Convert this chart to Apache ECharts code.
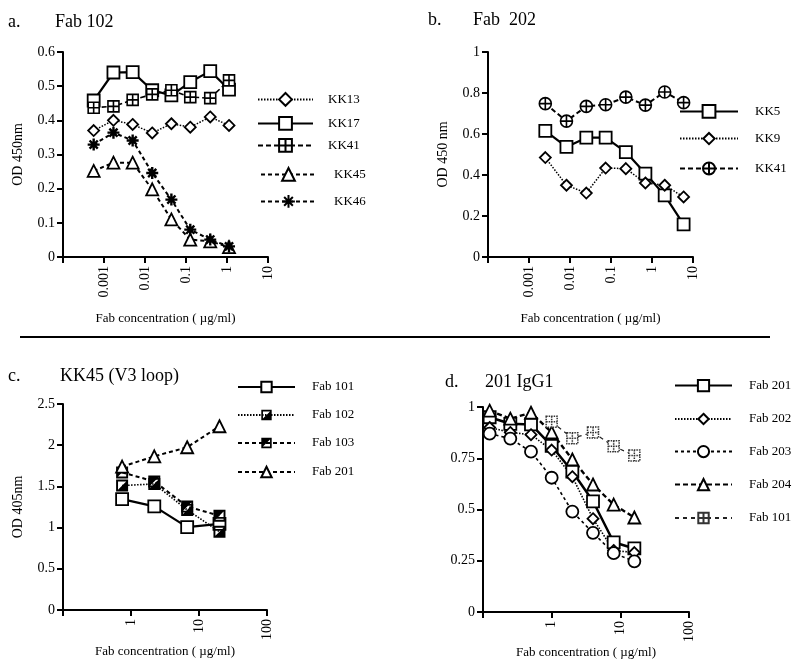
<!DOCTYPE html>
<html><head><meta charset="utf-8">
<script src="https://cdn.jsdelivr.net/npm/echarts@6/dist/echarts.min.js"></script>
<style>html,body{margin:0;padding:0;background:#fff}#c{width:800px;height:670px}</style>
</head><body><div id="c"></div>
<script>
// ---------- DATA ----------
// Panel a: Fab 102 (OD 450nm vs Fab concentration, µg/ml)
const concA = [0.00056, 0.0017, 0.005, 0.015, 0.044, 0.127, 0.39, 1.12];
const kk13A = [0.370, 0.400, 0.388, 0.363, 0.390, 0.380, 0.410, 0.385];
const kk17A = [0.458, 0.540, 0.541, 0.488, 0.473, 0.512, 0.544, 0.490];
const kk41A = [0.437, 0.441, 0.460, 0.476, 0.488, 0.468, 0.465, 0.517];
const kk45A = [0.252, 0.276, 0.276, 0.198, 0.110, 0.051, 0.046, 0.029];
const kk46A = [0.329, 0.364, 0.341, 0.246, 0.168, 0.080, 0.051, 0.031];
// Panel b: Fab 202
const concB = [0.0025, 0.0082, 0.025, 0.074, 0.23, 0.69, 2.04, 5.9];
const kk5B  = [0.615, 0.537, 0.582, 0.582, 0.512, 0.407, 0.301, 0.159];
const kk9B  = [0.485, 0.350, 0.312, 0.434, 0.431, 0.361, 0.350, 0.293];
const kk41B = [0.748, 0.663, 0.735, 0.743, 0.780, 0.741, 0.805, 0.753];
// Panel c: KK45 (V3 loop), OD 405nm
const concC = [0.74, 2.2, 6.7, 20];
const fab101C = [1.345, 1.258, 1.005, 1.045];
const fab102C = [1.510, 1.530, 1.215, 0.950];
const fab103C = [1.670, 1.560, 1.255, 1.145];
const fab201C = [1.740, 1.865, 1.975, 2.230];
// Panel d: 201 IgG1
const concD = [0.125, 0.25, 0.5, 1, 2, 4, 8, 16];
const fab201D = [0.950, 0.918, 0.915, 0.810, 0.685, 0.540, 0.340, 0.310];
const fab202D = [0.900, 0.876, 0.865, 0.790, 0.660, 0.455, 0.300, 0.290];
const fab203D = [0.870, 0.846, 0.782, 0.655, 0.490, 0.386, 0.287, 0.247];
const fab204D = [0.982, 0.943, 0.972, 0.876, 0.744, 0.622, 0.524, 0.461];
const fab101D = [null, null, null, 0.928, 0.848, 0.876, 0.808, 0.764];
// Tick labels
const xTicksAB = ['0.001', '0.01', '0.1', '1', '10'];
const xTicksCD = ['1', '10', '100'];
const yTicksA = [0, 0.1, 0.2, 0.3, 0.4, 0.5, 0.6];
const yTicksB = [0, 0.2, 0.4, 0.6, 0.8, 1];
const yTicksC = [0, 0.5, 1, 1.5, 2, 2.5];
const yTicksD = [0, 0.25, 0.5, 0.75, 1];

// ---------- STYLE ----------
const FF = '"Liberation Serif", "Times New Roman", serif';
const BOXPLUS = 'path://M0,0H10V10H0Z M5,0V10 M0,5H10';
const CIRPLUS = 'path://M0,5A5,5,0,1,1,10,5A5,5,0,1,1,0,5Z M5,0V10 M0,5H10';
const STAR = 'path://M5,0V10 M0,5H10 M1.6,1.6L8.4,8.4 M8.4,1.6L1.6,8.4';
const HALF_UL = 'path://M0,0H10V10H0Z M1.6,1.6V8.4H8.4V1.6Z M1.6,1.6H8.4L1.6,8.4Z';
const HALF_LR = 'path://M0,0H10V10H0Z M1.6,1.6V8.4H8.4V1.6Z M8.4,1.6V8.4H1.6Z';
const DOT = [1.5, 1.5], DASH = [5, 3], DASH2 = [4, 3];

function pairs(xs, ys) {
  return xs.map((x, i) => ys[i] == null ? null : [x, ys[i]]).filter(p => p);
}
function ser(name, g, xs, ys, sym, size, lt, lw, extra) {
  const s = {
    type: 'line', name: name, xAxisIndex: g, yAxisIndex: g,
    data: pairs(xs, ys), symbol: sym, symbolSize: size, showSymbol: true,
    symbolKeepAspect: true,
    lineStyle: { color: '#000', width: lw, type: lt },
    itemStyle: { color: '#fff', borderColor: '#000', borderWidth: 1.8 },
    emphasis: { disabled: true }, z: 3
  };
  return Object.assign(s, extra || {});
}
const solidItem = { itemStyle: { color: '#000', borderWidth: 0 } };

const series = [
  ser('a-KK13', 0, concA, kk13A, 'diamond', 11, DOT, 1.5),
  ser('a-KK17', 0, concA, kk17A, 'rect', 12, 'solid', 2.2),
  ser('a-KK41', 0, concA, kk41A, BOXPLUS, 11, DASH, 1.6, { itemStyle: { color: '#fff', borderColor: '#000', borderWidth: 1.6 } }),
  ser('a-KK45', 0, concA, kk45A, 'triangle', 12, DASH2, 2),
  ser('a-KK46', 0, concA, kk46A, STAR, 12, DASH2, 2, { itemStyle: { color: '#fff', borderColor: '#000', borderWidth: 2.4 } }),
  ser('b-KK5', 1, concB, kk5B, 'rect', 12, 'solid', 2.2),
  ser('b-KK9', 1, concB, kk9B, 'diamond', 11, DOT, 1.5),
  ser('b-KK41', 1, concB, kk41B, CIRPLUS, 12, DASH, 2, { itemStyle: { color: '#fff', borderColor: '#000', borderWidth: 1.6 } }),
  ser('c-Fab 101', 2, concC, fab101C, 'rect', 12, 'solid', 2.2),
  ser('c-Fab 102', 2, concC, fab102C, HALF_LR, 12, DOT, 1.6, solidItem),
  ser('c-Fab 103', 2, concC, fab103C, HALF_UL, 12, DASH2, 2, solidItem),
  ser('c-Fab 201', 2, concC, fab201C, 'triangle', 12, DASH2, 2),
  ser('d-Fab 201', 3, concD, fab201D, 'rect', 12, 'solid', 2.5),
  ser('d-Fab 202', 3, concD, fab202D, 'diamond', 11, DOT, 1.6),
  ser('d-Fab 203', 3, concD, fab203D, 'circle', 12, [3, 3], 1.6),
  ser('d-Fab 204', 3, concD, fab204D, 'triangle', 12, [5, 3], 2.4),
  ser('d-Fab 101', 3, concD, fab101D, BOXPLUS, 11, [4, 4], 1.2,
      { lineStyle: { color: '#222', width: 1.2, type: [4, 4] },
        itemStyle: { color: '#fff', borderColor: '#333', borderWidth: 1.5, borderType: [1.5, 1] } })
];

// ---------- LAYOUT ----------
const grids = [
  { left: 63, top: 52, width: 205, height: 205 },
  { left: 488, top: 52, width: 205, height: 205 },
  { left: 63, top: 404, width: 204, height: 206 },
  { left: 483, top: 407, width: 206, height: 205 }
];
const xRanges = [[1e-4, 10], [1e-4, 10], [0.1, 100], [0.1, 100]];
const xLabs = [xTicksAB, xTicksAB, xTicksCD, xTicksCD];
const xGaps = [55, 55, 35, 33];
const yTicks = [yTicksA, yTicksB, yTicksC, yTicksD];
const yNames = ['OD 450nm', 'OD 450 nm', 'OD 405nm', ''];

const xAxis = grids.map((g, i) => ({
  type: 'log', logBase: 10, gridIndex: i, min: xRanges[i][0], max: xRanges[i][1],
  axisLine: { lineStyle: { color: '#000', width: 2 } },
  axisTick: { show: true, length: 6, lineStyle: { color: '#000', width: 2 } },
  splitLine: { show: false },
  axisLabel: {
    rotate: 90, margin: 9, fontSize: 14, fontFamily: FF, color: '#000',
    formatter: v => {
      const s = xLabs[i].find(l => Math.abs(Math.log10(+l) - Math.log10(v)) < 1e-6);
      return s || '';
    }
  },
  name: 'Fab concentration ( µg/ml)', nameLocation: 'middle', nameGap: xGaps[i],
  nameTextStyle: { fontFamily: FF, fontSize: 13, color: '#000' }
}));
const yAxis = grids.map((g, i) => {
  const t = yTicks[i];
  return {
    type: 'value', gridIndex: i, min: t[0], max: t[t.length - 1], interval: t[1] - t[0],
    axisLine: { show: true, lineStyle: { color: '#000', width: 2 } },
    axisTick: { show: true, length: 6, lineStyle: { color: '#000', width: 2 } },
    splitLine: { show: false },
    axisLabel: { margin: 8, fontSize: 14, fontFamily: FF, color: '#000',
      formatter: v => { const m = t.find(x => Math.abs(x - v) < 1e-9); return m == null ? '' : String(m); } },
    name: yNames[i], nameLocation: 'middle', nameGap: 38,
    nameTextStyle: { fontFamily: FF, fontSize: 14, color: '#000' }
  };
});

// legend entries: [series name, line left x, center y, line width, item height, text x]
const legendSpec = [
  ['a-KK13', 257, 100, 55, 16, 327], ['a-KK17', 257, 124, 55, 16, 327], ['a-KK41', 257, 146, 55, 16, 327],
  ['a-KK45', 260, 175, 55, 16, 333], ['a-KK46', 260, 202, 55, 16, 333],
  ['b-KK5', 679, 112, 58, 16, 754], ['b-KK9', 679, 139, 58, 14, 754], ['b-KK41', 679, 169, 58, 15, 754],
  ['c-Fab 101', 237, 387, 57, 13, 311], ['c-Fab 102', 237, 415, 57, 13, 311],
  ['c-Fab 103', 237, 443, 57, 13, 311], ['c-Fab 201', 237, 472, 57, 13, 311],
  ['d-Fab 201', 674, 386, 57, 14, 748], ['d-Fab 202', 674, 419, 57, 13, 748], ['d-Fab 203', 674, 452, 57, 14, 748],
  ['d-Fab 204', 674, 485, 57, 14, 748], ['d-Fab 101', 674, 518, 57, 13, 748]
];
const legend = legendSpec.map(([n, x, y, w, h, tx]) => ({
  data: [n], left: x, top: y - h / 2, itemWidth: w, itemHeight: h, padding: 0,
  selectedMode: false, formatter: s => s.replace(/^[a-d]-/, ''),
  textStyle: { fontFamily: FF, fontSize: 13, color: '#000', padding: [0, 0, 0, tx - x - w - 5] }
}));

const titleSpec = [
  ['a.', 8, 23], ['Fab 102', 55, 23], ['b.', 428, 21], ['Fab  202', 473, 21],
  ['c.', 8, 377], ['KK45 (V3 loop)', 60, 377], ['d.', 445, 383], ['201 IgG1', 485, 383]
];
const title = titleSpec.map(([t, x, y]) => ({
  text: t, left: x, top: y - 10, padding: 0,
  textStyle: { fontFamily: FF, fontSize: 18, fontWeight: 'normal', color: '#000' }
}));

const chart = echarts.init(document.getElementById('c'), null, { renderer: 'canvas' });
chart.setOption({
  animation: false,
  backgroundColor: '#fff',
  title: title,
  grid: grids,
  xAxis: xAxis,
  yAxis: yAxis,
  legend: legend,
  series: series,
  graphic: [{ type: 'line', shape: { x1: 20, y1: 337, x2: 770, y2: 337 }, style: { stroke: '#000', lineWidth: 2 } }]
});
</script></body></html>
